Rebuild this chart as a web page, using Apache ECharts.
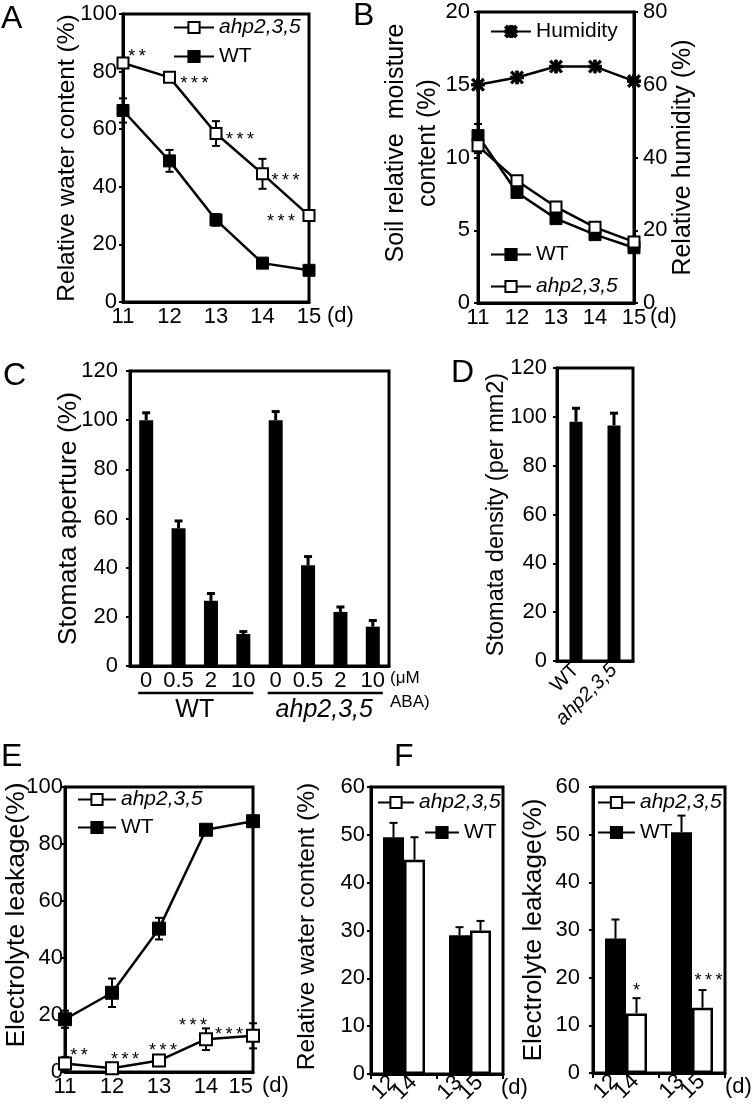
<!DOCTYPE html>
<html><head><meta charset="utf-8">
<script src="https://cdn.jsdelivr.net/npm/echarts@6/dist/echarts.min.js"></script>
<style>html,body{margin:0;padding:0;background:#fff}#c{width:753px;height:1107px}</style>
</head><body><div id="c"></div>
<script>
// ---------------- DATA ----------------
const days = ['11', '12', '13', '14', '15'];
// A: relative water content
const aAhp = [83, 78, 58.5, 44.5, 30];
const aAhpErr = [1.2, 1, 4.3, 5.2, 1];
const aWT = [66.5, 49, 28.5, 13.5, 11];
const aWTErr = [4.2, 3.8, 2, 1.2, 1];
const aStars = ['**', '***', '***', '***', '***'];
// B: soil moisture & humidity
const bHumidity = [60, 62, 65, 65, 61];
const bWT = [11.5, 7.6, 5.8, 4.7, 3.8];
const bWTErr = [0.8, 0.3, 0.3, 0.2, 0.2];
const bAhp = [10.8, 8.4, 6.6, 5.2, 4.2];
const bAhpErr = [0.5, 0.3, 0.2, 0.2, 0.2];
// C: stomata aperture
const cDoses = ['0', '0.5', '2', '10', '0', '0.5', '2', '10'];
const cGroups = ['WT', 'ahp2,3,5'];
const cValues = [100, 56, 26.5, 13, 100, 41, 22, 16];
const cErr = [3, 3, 3, 1, 3.5, 3.5, 2, 2.5];
// D: stomata density
const dGenotypes = ['WT', 'ahp2,3,5'];
const dValues = [98, 96.5];
const dErr = [5.5, 5];
// E: electrolyte leakage time course
const eWT = [18.5, 27.8, 50.3, 85, 88];
const eWTErr = [3, 5, 3.8, 1, 1];
const eAhp = [3, 1.3, 4, 11.5, 12.7];
const eAhpErr = [2.3, 1, 1, 3.8, 4.4];
const eStars = ['**', '***', '***', '***', '***'];
// F: bars
const fWTDays = ['12', '13'];
const fAhpDays = ['14', '15'];
const f1WT = [49.5, 29];
const f1WTErr = [3, 1.7];
const f1Ahp = [44.8, 30];
const f1AhpErr = [4.7, 2];
const f2WT = [28.2, 50.5];
const f2WTErr = [4, 3.5];
const f2Ahp = [12.5, 13.7];
const f2AhpErr = [3.2, 3.7];
const f2Stars = ['*', '***'];

// ---------------- STYLE HELPERS ----------------
const FF = 'Liberation Sans, Arial, Helvetica, sans-serif';
const BLACK = '#000';
const lineAx = { show: true, lineStyle: { color: BLACK, width: 3 } };
const tick = { show: true, inside: false, length: 4, lineStyle: { color: BLACK, width: 2 } };
const starTxt = s => s.split('').join('\u2009');

function yAx(gi, min, max, interval, name, nameGap, o) {
  o = o || {};
  return {
    type: 'value', gridIndex: gi, min: min, max: max, interval: interval,
    position: o.position || 'left',
    name: name, nameLocation: 'middle', nameGap: nameGap, nameMoveOverlap: false,
    nameTextStyle: { fontFamily: FF, fontSize: o.nameSize || 24, color: BLACK, lineHeight: o.lineHeight || undefined, padding: o.namePad || 0 },
    axisLine: lineAx, axisTick: tick, splitLine: { show: false },
    axisLabel: { fontFamily: FF, fontSize: o.labelSize || 22, color: BLACK, margin: o.margin == null ? 6 : o.margin }
  };
}
function xCat(gi, data, o) {
  o = o || {};
  return {
    type: 'category', gridIndex: gi, data: data,
    boundaryGap: o.boundaryGap === false ? false : true,
    position: 'bottom', offset: o.offset || 0,
    name: o.name, nameLocation: 'end', nameGap: o.nameGap || 0, nameMoveOverlap: false,
    nameTextStyle: Object.assign({ fontFamily: FF, fontSize: 22, color: BLACK, verticalAlign: 'top', align: 'left', padding: [3, 0, 0, 0] }, o.nameStyle || {}),
    axisLine: o.noLine ? { show: false } : lineAx,
    axisTick: o.tick || { show: false },
    splitLine: { show: false },
    axisLabel: {
      show: o.showLabel !== false, interval: 0, fontFamily: FF, fontSize: o.labelSize || 22, color: BLACK,
      margin: o.margin == null ? 4 : o.margin, rotate: o.rotate || 0, alignMaxLabel: o.alignMax || null,
      formatter: o.formatter, rich: { i: { fontStyle: 'italic', fontFamily: FF, fontSize: o.labelSize || 22, color: BLACK } }
    }
  };
}
const italicFmt = v => (v.indexOf('ahp') === 0 ? '{i|' + v + '}' : v);

function lineS(name, xi, yi, data, filled, size, symbol) {
  return {
    type: 'line', name: name, xAxisIndex: xi, yAxisIndex: yi, data: data,
    symbol: symbol || 'rect', symbolSize: size, showSymbol: true, z: 3,
    lineStyle: { color: BLACK, width: 2.5 },
    itemStyle: filled ? { color: BLACK, borderColor: BLACK, borderWidth: 1 } : { color: '#fff', borderColor: BLACK, borderWidth: 2 },
    emphasis: { disabled: true }, animation: false
  };
}
function barS(name, xi, yi, data, filled, width) {
  return {
    type: 'bar', name: name, xAxisIndex: xi, yAxisIndex: yi, data: data, barWidth: width, barGap: '0%', z: 2,
    itemStyle: filled ? { color: BLACK } : { color: '#fff', borderColor: BLACK, borderWidth: 2.5 },
    emphasis: { disabled: true }, animation: false
  };
}
// error bars (+ optional significance stars and rotated day labels under bars)
function errSeries(xi, yi, vals, errs, o) {
  o = o || {};
  return {
    type: 'custom', xAxisIndex: xi, yAxisIndex: yi, silent: true, z: o.z || 1, clip: false, animation: false,
    data: vals.map((v, i) => [i, v, errs[i]]),
    renderItem: function (params, api) {
      const i = api.value(0), v = api.value(1), e = api.value(2);
      const p = api.coord([i, v]);
      const hi = api.coord([i, v + e]);
      const lo = api.coord([i, o.both ? v - e : v]);
      const x = p[0] + (o.shift || 0);
      const w = (o.cap || 8) / 2;
      const st = { stroke: BLACK, lineWidth: o.lw || 2 };
      const ch = [
        { type: 'line', shape: { x1: x, y1: lo[1], x2: x, y2: hi[1] }, style: st },
        { type: 'line', shape: { x1: x - w, y1: hi[1], x2: x + w, y2: hi[1] }, style: st }
      ];
      if (o.both) ch.push({ type: 'line', shape: { x1: x - w, y1: lo[1], x2: x + w, y2: lo[1] }, style: st });
      if (o.stars && o.stars[i]) {
        const off = o.starOffsets[i];
        const base = o.starAtTop ? hi : p;
        ch.push({
          type: 'text', style: {
            text: starTxt(o.stars[i]), x: x + off[0], y: base[1] + off[1],
            align: 'center', verticalAlign: 'middle', textAlign: 'center', textVerticalAlign: 'middle',
            font: '18px ' + FF, fill: BLACK
          }
        });
      }
      if (o.days) {
        const zero = api.coord([i, 0]);
        ch.push({
          type: 'text', x: x - 1, y: zero[1] + 5, rotation: Math.PI / 4,
          style: {
            text: o.days[i], x: 0, y: 0, align: 'right', verticalAlign: 'middle', textAlign: 'right', textVerticalAlign: 'middle',
            font: '22px ' + FF, fill: BLACK
          }
        });
      }
      return { type: 'group', children: ch };
    }
  };
}
const asterisk = 'path://M0,4L10,4L10,6L0,6Z M4,0L6,0L6,10L4,10Z M1.4,0L10,8.6L8.6,10L0,1.4Z M8.6,0L10,1.4L1.4,10L0,8.6Z';

// label placements for significance stars (offset of star centre from the point, px)
const aStarPos = [[14, -6], [25, 7], [24, 7], [23, 7], [-28, 6]];
const eStarPos = [[14, -7], [13, -8], [4, -10], [-13, -13], [-24, -1]];
const f2StarPos = [[0, -7], [6, -9]];

// ---------------- LAYOUT ----------------
const grids = [
  { left: 123, top: 14, width: 186, height: 288 },   // A
  { left: 478, top: 12, width: 156, height: 291 },   // B
  { left: 130, top: 371, width: 259, height: 295 },  // C
  { left: 557, top: 368, width: 76, height: 293 },   // D
  { left: 65, top: 787, width: 188, height: 285 },   // E
  { left: 371, top: 787, width: 132, height: 287 },  // F1
  { left: 593, top: 787, width: 132, height: 286 }   // F2
].map(g => Object.assign({ show: true, borderColor: BLACK, borderWidth: 3, backgroundColor: 'transparent', containLabel: false, outerBoundsMode: 'none' }, g));

const fTick = { show: true, inside: false, length: 5, interval: 0, lineStyle: { color: BLACK, width: 2 } };
const fCats = fWTDays.map((d, i) => d + '/' + fAhpDays[i]);

const xAxes = [
  xCat(0, days, { boundaryGap: false, name: '(d)', nameGap: 18 }),                        // 0 A
  xCat(1, days, { boundaryGap: false, name: '(d)', nameGap: 16 }),                        // 1 B
  xCat(2, cDoses.map((d, i) => i + '|' + d), {                                             // 2 C
    formatter: v => v.split('|')[1], name: '(\u03bcM\nABA)', nameGap: 1,
    nameStyle: { fontSize: 17, lineHeight: 24, padding: [0, 0, 0, 0] }
  }),
  xCat(2, cGroups, { noLine: true, offset: 28, margin: 4, labelSize: 25, formatter: italicFmt }), // 3 C groups
  xCat(3, dGenotypes, { rotate: 45, margin: 6, labelSize: 20, formatter: italicFmt }),     // 4 D
  xCat(4, days, { boundaryGap: false, name: '(d)', nameGap: 9, alignMax: 'right' }),      // 5 E
  xCat(5, fCats, { showLabel: false, tick: fTick, name: '(d)', nameGap: -2 }),            // 6 F1
  xCat(6, fCats, { showLabel: false, tick: fTick, name: '(d)', nameGap: 0 })              // 7 F2
];
const yAxes = [
  yAx(0, 0, 100, 20, 'Relative water content (%)', 43, { margin: 6, nameSize: 24.5 }),                   // 0 A
  yAx(1, 0, 20, 5, 'Soil relative  moisture\ncontent (%)', 34, { margin: 8, lineHeight: 32, nameSize: 25, namePad: [0, 0, 0, 29] }), // 1 B left
  yAx(1, 0, 80, 20, 'Relative humidity (%)', 37, { position: 'right', margin: 9, nameSize: 25 }),       // 2 B right
  yAx(2, 0, 120, 20, 'Stomata aperture (%)', 48, { margin: 12, nameSize: 26.5 }),                         // 3 C
  yAx(3, 0, 120, 20, 'Stomata density (per mm2)', 48, { margin: 10, nameSize: 23.5 }),                    // 4 D
  yAx(4, 0, 100, 20, 'Electrolyte leakage(%)', 35, { margin: 2, nameSize: 26.5, namePad: [0, 0, 0, 29] }), // 5 E
  yAx(5, 0, 60, 10, 'Relative water content (%)', 51, { margin: 6, nameSize: 24.5, namePad: [0, 0, 0, 8] }), // 6 F1
  yAx(6, 0, 60, 10, 'Electrolyte leakage(%)', 46, { margin: 13, nameSize: 26.3 })                        // 7 F2
];

const series = [
  // A
  lineS('ahp2,3,5', 0, 0, aAhp, false, 11),
  lineS('WT', 0, 0, aWT, true, 12),
  errSeries(0, 0, aAhp, aAhpErr, { both: true, cap: 8, stars: aStars, starOffsets: aStarPos }),
  errSeries(0, 0, aWT, aWTErr, { both: true, cap: 8 }),
  // B
  lineS('Humidity', 1, 2, bHumidity, true, 13, asterisk),
  lineS('WT', 1, 1, bWT, true, 12),
  lineS('ahp2,3,5', 1, 1, bAhp, false, 11),
  errSeries(1, 1, bWT, bWTErr, { both: true, cap: 8 }),
  errSeries(1, 1, bAhp, bAhpErr, { both: true, cap: 8 }),
  // C
  barS('aperture', 2, 3, cValues, true, 14),
  errSeries(2, 3, cValues, cErr, { cap: 8, lw: 3, z: 3 }),
  // D
  barS('density', 4, 4, dValues, true, 13),
  errSeries(4, 4, dValues, dErr, { cap: 8, lw: 3, z: 3 }),
  // E
  lineS('WT', 5, 5, eWT, true, 13),
  lineS('ahp2,3,5', 5, 5, eAhp, false, 12),
  errSeries(5, 5, eWT, eWTErr, { both: true, cap: 8 }),
  errSeries(5, 5, eAhp, eAhpErr, { both: true, cap: 8, stars: eStars, starOffsets: eStarPos }),
  // F1
  barS('WT', 6, 6, f1WT, true, 21),
  barS('ahp2,3,5', 6, 6, f1Ahp, false, 21),
  errSeries(6, 6, f1WT, f1WTErr, { shift: -10.5, cap: 8, lw: 2, z: 3, days: fWTDays }),
  errSeries(6, 6, f1Ahp, f1AhpErr, { shift: 10.5, cap: 8, lw: 2, z: 3, days: fAhpDays }),
  // F2
  barS('WT', 7, 7, f2WT, true, 21),
  barS('ahp2,3,5', 7, 7, f2Ahp, false, 21),
  errSeries(7, 7, f2WT, f2WTErr, { shift: -10.5, cap: 8, lw: 2, z: 3, days: fWTDays }),
  errSeries(7, 7, f2Ahp, f2AhpErr, { shift: 10.5, cap: 8, lw: 2, z: 3, stars: f2Stars, starOffsets: f2StarPos, starAtTop: true, days: fAhpDays })
];

const legTxt = { fontFamily: FF, fontSize: 21, color: BLACK };
const ahpItem = { name: 'ahp2,3,5', textStyle: { fontStyle: 'italic' } };
function leg(left, top, data, itemWidth, itemGap) {
  return { left: left, top: top, orient: 'vertical', itemWidth: itemWidth, itemHeight: 14, itemGap: itemGap, data: data, textStyle: legTxt, selectedMode: false, padding: 0 };
}
const legends = [
  leg(173, 17, [ahpItem, 'WT'], 40, 8),
  leg(490, 21, ['Humidity'], 40, 8),
  leg(490, 244, ['WT', ahpItem], 40, 11),
  leg(77, 789, [ahpItem, 'WT'], 38, 7),
  leg(377, 792, [ahpItem], 36, 8),
  leg(424, 822, ['WT'], 34, 8),
  leg(597, 792, [ahpItem, 'WT'], 37, 9)
];

const chart = echarts.init(document.getElementById('c'), null, { renderer: 'canvas' });
chart.setOption({
  animation: false,
  backgroundColor: '#fff',
  textStyle: { fontFamily: FF },
  grid: grids, xAxis: xAxes, yAxis: yAxes, legend: legends, series: series
});

// panel letters and genotype underlines in panel C (positions taken from the C axis)
function letter(t, x, y) {
  return { type: 'text', x: x, y: y, style: { text: t, font: '32px ' + FF, fill: BLACK, align: 'left', verticalAlign: 'middle', textAlign: 'left', textVerticalAlign: 'middle' } };
}
const graphics = [
  letter('A', 1, 19), letter('B', 353, 16), letter('C', 3, 376),
  letter('D', 451, 373), letter('E', 1, 757), letter('F', 394, 757)
];
const yBase = chart.convertToPixel({ yAxisIndex: 3 }, 0);
cGroups.forEach((g, gi) => {
  const n = cDoses.length / cGroups.length;
  const p0 = chart.convertToPixel({ xAxisIndex: 2 }, gi * n);
  const p1 = chart.convertToPixel({ xAxisIndex: 2 }, gi * n + n - 1);
  graphics.push({ type: 'line', shape: { x1: p0 - 8, y1: yBase + 27, x2: p1 + 10, y2: yBase + 27 }, style: { stroke: BLACK, lineWidth: 2.5 } });
});
chart.setOption({ graphic: graphics });
</script></body></html>
